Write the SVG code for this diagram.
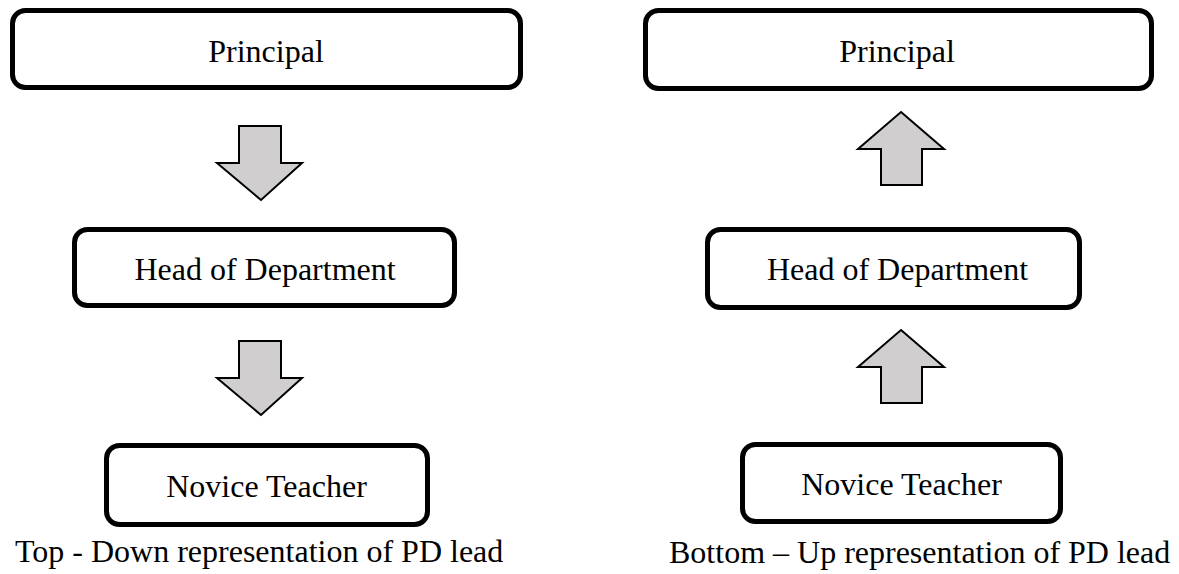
<svg xmlns="http://www.w3.org/2000/svg" width="1179" height="574" viewBox="0 0 1179 574">
<style>
.box{fill:#ffffff;stroke:#000000;stroke-width:5}
.arr{fill:#d0cece;stroke:#000000;stroke-width:2;stroke-linejoin:miter}
.lbl{font-family:"Liberation Serif","Times New Roman",serif;font-size:32px;fill:#000000;text-anchor:middle}
.cap{font-family:"Liberation Serif","Times New Roman",serif;font-size:32px;fill:#000000}
</style>
<rect width="1179" height="574" fill="#ffffff"/>
<g id="connectors">
<polygon class="arr" points="239,126 281,126 281,163 302,163 261,200 217,163 239,163"/>
<polygon class="arr" points="239,341 281,341 281,378 302,378 261,415 217,378 239,378"/>
<polygon class="arr" points="901,112 944,149 922,149 922,185 881,185 881,149 858,149"/>
<polygon class="arr" points="901,330 944,367 922,367 922,403 881,403 881,367 858,367"/>
</g>
<g id="left-principal">
<rect class="box" x="12.5" y="10.5" width="508" height="77" rx="13"/>
<text class="lbl" x="266" y="62">Principal</text>
</g>
<g id="left-hod">
<rect class="box" x="74.5" y="229.5" width="380" height="76" rx="13"/>
<text class="lbl" x="265" y="280">Head of Department</text>
</g>
<g id="left-novice">
<rect class="box" x="106.5" y="445.5" width="321" height="79" rx="13"/>
<text class="lbl" x="266.5" y="497">Novice Teacher</text>
</g>
<g id="right-principal">
<rect class="box" x="645.5" y="10.5" width="506" height="78" rx="13"/>
<text class="lbl" x="897" y="62">Principal</text>
</g>
<g id="right-hod">
<rect class="box" x="707.5" y="229.5" width="372" height="78" rx="13"/>
<text class="lbl" x="897.5" y="280">Head of Department</text>
</g>
<g id="right-novice">
<rect class="box" x="742.5" y="444.5" width="318" height="77" rx="13"/>
<text class="lbl" x="901.5" y="495">Novice Teacher</text>
</g>
<g id="captions">
<text class="cap" x="15" y="562">Top - Down representation of PD lead</text>
<text class="cap" x="669" y="563">Bottom – Up representation of PD lead</text>
</g>
</svg>
